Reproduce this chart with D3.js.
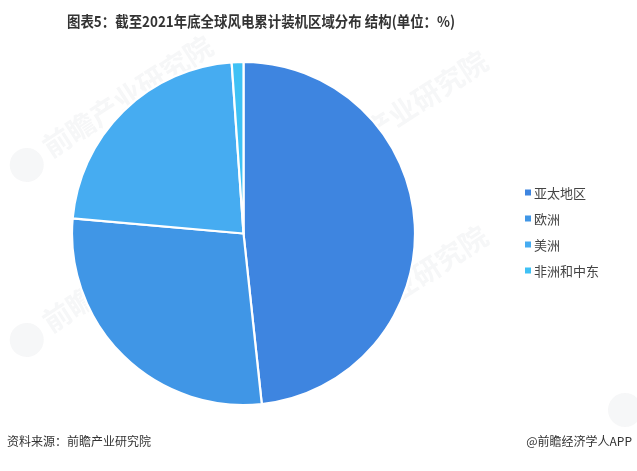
<!DOCTYPE html>
<html>
<head>
<meta charset="utf-8">
<script src="https://cdn.jsdelivr.net/npm/d3@7/dist/d3.min.js"></script>
<style>
  html, body { margin: 0; padding: 0; background: #fff; }
  svg { display: block; font-family: "Microsoft YaHei", "Noto Sans CJK SC", sans-serif; }
</style>
</head>
<body>
<svg id="chart" width="637" height="471"></svg>
<script>
// Share of global cumulative installed wind capacity by region, end of 2021 (%)
const regions = ["亚太地区", "欧洲", "美洲", "非洲和中东"];
const shares = [48.3, 28.1, 22.5, 1.1];
const colors = ["#3e85e0", "#4096e6", "#46acf1", "#3fc1f5"];

const titleText = "图表5：截至2021年底全球风电累计装机区域分布 结构(单位：%)";
const sourceText = "资料来源：前瞻产业研究院";
const brandText = "@前瞻经济学人APP";
const watermarkText = "前瞻产业研究院";

const svg = d3.select("#chart");

// faint brand watermarks behind the chart
const wm = svg.append("g").attr("opacity", 0.07).attr("fill", "#7d8390");
const wmSpots = [[30, 170], [305, 185], [30, 345], [305, 360]];
wmSpots.forEach(([x, y]) => {
  const g = wm.append("g").attr("transform", `translate(${x},${y}) rotate(-33)`);
  g.append("circle").attr("cx", 0).attr("cy", -6).attr("r", 17);
  g.append("text").attr("x", 24).attr("y", 2)
    .attr("font-size", 28).attr("font-weight", "bold").text(watermarkText);
});
// logo mark only, partly off the lower-right edge
wm.append("circle").attr("cx", 625).attr("cy", 410).attr("r", 17);

// title
svg.append("text")
  .attr("x", 67).attr("y", 27)
  .attr("font-size", 15).attr("font-weight", "bold").attr("fill", "#333")
  .attr("textLength", 388).attr("lengthAdjust", "spacingAndGlyphs")
  .text(titleText);

// pie
const cx = 243.5, cy = 233.5, R = 171.5;
const pie = d3.pie().sort(null).value(d => d)(shares);
const arc = d3.arc().innerRadius(0).outerRadius(R);
const colorScale = d3.scaleOrdinal().domain(regions).range(colors);

svg.append("g").attr("transform", `translate(${cx},${cy})`)
  .selectAll("path").data(pie).join("path")
  .attr("d", arc)
  .attr("fill", (d, i) => colorScale(regions[i]))
  .attr("stroke", "#fff").attr("stroke-width", 2.2)
  .attr("stroke-linejoin", "round");

// legend
const legendY = d3.scalePoint().domain(regions).range([193, 271]);
const lg = svg.append("g");
regions.forEach(r => {
  const y = legendY(r);
  lg.append("rect").attr("x", 525).attr("y", y - 3.5).attr("width", 6).attr("height", 6)
    .attr("fill", colorScale(r));
  lg.append("text").attr("x", 534).attr("y", y + 4.5)
    .attr("font-size", 13).attr("fill", "#444").text(r);
});

// footer
svg.append("text").attr("x", 7).attr("y", 446)
  .attr("font-size", 12).attr("fill", "#333").text(sourceText);
svg.append("text").attr("x", 632).attr("y", 446).attr("text-anchor", "end")
  .attr("font-size", 12).attr("fill", "#333").text(brandText);
</script>
</body>
</html>
